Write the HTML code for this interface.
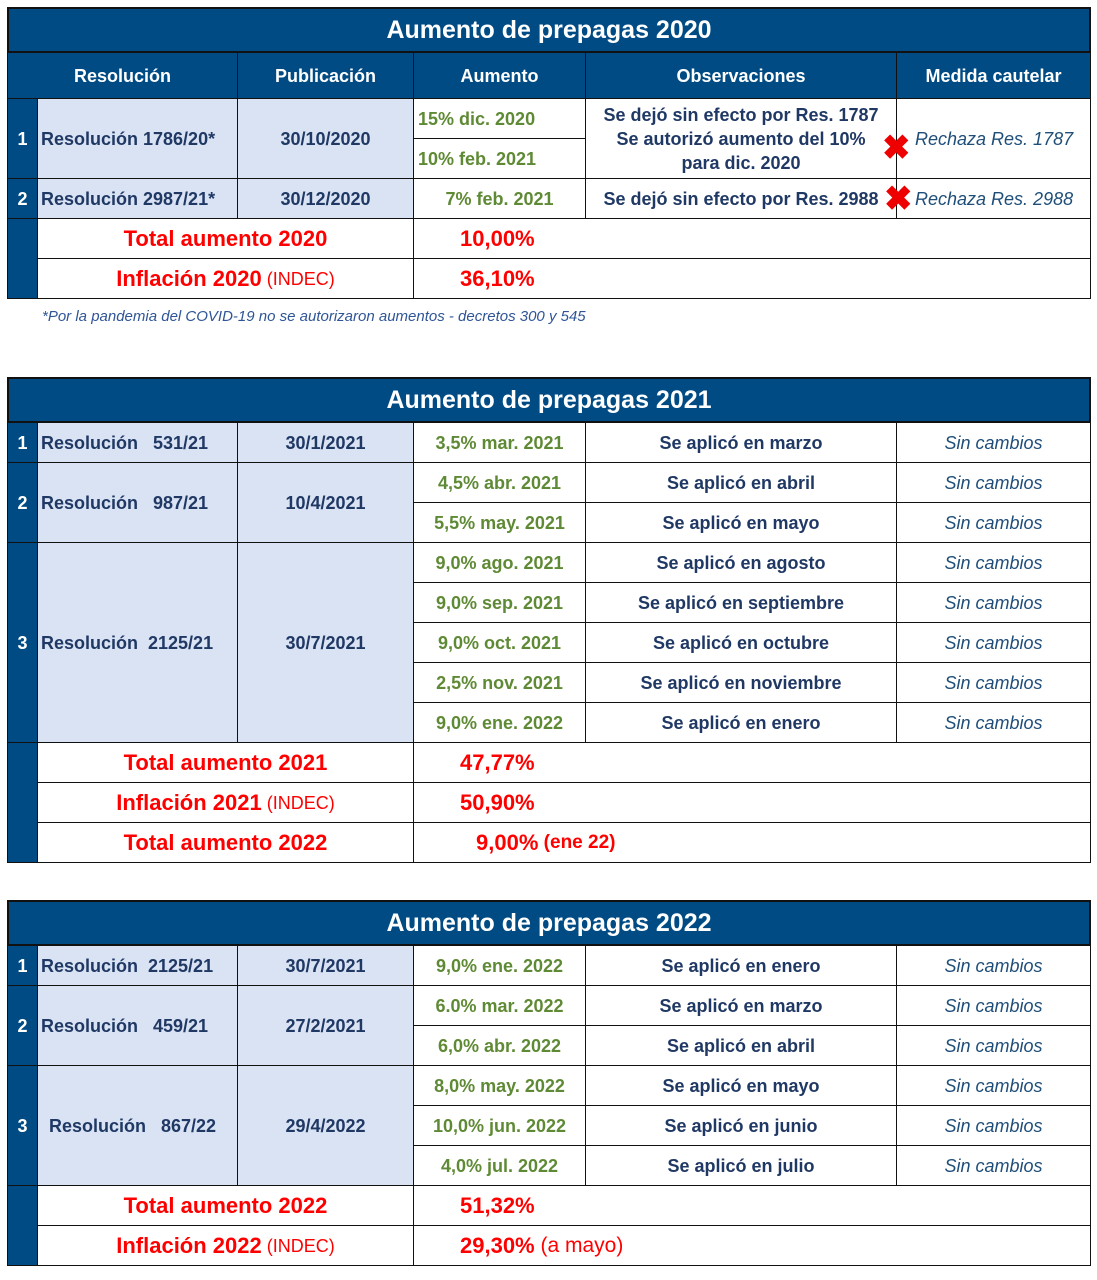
<!DOCTYPE html>
<html><head><meta charset="utf-8"><style>
body{margin:0;width:1097px;height:1280px;background:#fff;position:relative;font-family:"Liberation Sans",sans-serif;overflow:hidden}
.c{position:absolute;box-sizing:border-box;border:1px solid #111;display:flex;align-items:center;justify-content:center;text-align:center;font-weight:bold;font-size:18px;color:#1f3864;line-height:24px}
.t{background:#004b84;color:#fff;font-size:25px;border:2px solid #111}
.h{background:#004b84;color:#fff;font-size:18px}
.n{background:#004b84;color:#fff;font-size:18px}
.l{background:#dae3f3}
.g{color:#5f8a35}
.r{color:#f00;font-size:22px}
.i{font-style:italic;font-weight:normal;color:#1f4e79}
.x{position:absolute;color:#e00;font-size:34px;font-weight:bold;line-height:34px}
.fn{position:absolute;left:42px;top:308px;font-size:15px;font-style:italic;color:#2f5597}
</style></head><body>
<div id="root"></div>
<div class="fn">*Por la pandemia del COVID-19 no se autorizaron aumentos - decretos 300 y 545</div>
<script>
const X=[7,37,237,413,585,896,1090];
let h='';
function c(x1,y1,x2,y2,t,cls,st){h+=`<div class="c ${cls||''}" style="left:${x1}px;top:${y1}px;width:${x2-x1+1}px;height:${y2-y1+1}px;${st||''}">${t}</div>`;}
function table(y0,title,rows,totals,hdr){
 c(X[0],y0,X[6],y0+45,title,'t');
 let y=y0+45;
 if(hdr){c(X[0],y,X[2],y+46,'Resolución','h');c(X[2],y,X[3],y+46,'Publicación','h');c(X[3],y,X[4],y+46,'Aumento','h');c(X[4],y,X[5],y+46,'Observaciones','h');c(X[5],y,X[6],y+46,'Medida cautelar','h');y+=46;}
 rows.forEach(g=>{
  const hh=g.sub.length*40;
  c(X[0],y,X[1],y+hh,g.n,'n');
  c(X[1],y,X[2],y+hh,g.res,'l',g.rs||'justify-content:flex-start;padding-left:3px');
  c(X[2],y,X[3],y+hh,g.pub,'l');
  g.sub.forEach((s,k)=>{const yy=y+k*40;
   c(X[3],yy,X[4],yy+40,s[0],'g',s[3]||'');
   if(s[1]!==null)c(X[4],yy,X[5],yy+(s[4]||40),s[1],'');
   if(s[2]!==null)c(X[5],yy,X[6],yy+(s[4]||40),s[2],'i',s[5]||'');
  });
  y+=hh;
 });
 const ty=y;
 totals.forEach((t,k)=>{const yy=y+k*40;
  c(X[1],yy,X[3],yy+40,t[0],'r');
  c(X[3],yy,X[6],yy+40,t[1],'r',t[2]||'justify-content:flex-start;padding-left:'+(t[3]||46)+'px');
 });
 c(X[0],ty,X[1],ty+totals.length*40,'','n');
}
const sc='Sin cambios';
const ind='<span style="font-weight:normal;font-size:18px">&nbsp;(INDEC)</span>';
const rj='justify-content:flex-start;padding-left:18px';
table(7,'Aumento de prepagas 2020',[
 {n:'1',res:'Resolución 1786/20*',pub:'30/10/2020',sub:[['15% dic. 2020','Se dejó sin efecto por Res. 1787<br>Se autorizó aumento del 10%<br>para dic. 2020','Rechaza Res. 1787','justify-content:flex-start;padding-left:4px',80,rj],['10% feb. 2021',null,null,'justify-content:flex-start;padding-left:4px']]},
 {n:'2',res:'Resolución 2987/21*',pub:'30/12/2020',sub:[['7% feb. 2021','Se dejó sin efecto por Res. 2988','Rechaza Res. 2988','',40,rj]]}
],[['Total aumento 2020','10,00%'],['Inflación 2020'+ind,'36,10%']],true);
table(377,'Aumento de prepagas 2021',[
 {n:'1',res:'Resolución &nbsp; 531/21',pub:'30/1/2021',sub:[['3,5% mar. 2021','Se aplicó en marzo',sc]]},
 {n:'2',res:'Resolución &nbsp; 987/21',pub:'10/4/2021',sub:[['4,5% abr. 2021','Se aplicó en abril',sc],['5,5% may. 2021','Se aplicó en mayo',sc]]},
 {n:'3',res:'Resolución &nbsp;2125/21',pub:'30/7/2021',sub:[['9,0% ago. 2021','Se aplicó en agosto',sc],['9,0% sep. 2021','Se aplicó en septiembre',sc],['9,0% oct. 2021','Se aplicó en octubre',sc],['2,5% nov. 2021','Se aplicó en noviembre',sc],['9,0% ene. 2022','Se aplicó en enero',sc]]}
],[['Total aumento 2021','47,77%'],['Inflación 2021'+ind,'50,90%'],['Total aumento 2022','9,00% <span style="font-size:19px">&nbsp;(ene 22)</span>','justify-content:flex-start;padding-left:62px']]);
table(900,'Aumento de prepagas 2022',[
 {n:'1',res:'Resolución &nbsp;2125/21',pub:'30/7/2021',sub:[['9,0% ene. 2022','Se aplicó en enero',sc]]},
 {n:'2',res:'Resolución &nbsp; 459/21',pub:'27/2/2021',sub:[['6.0% mar. 2022','Se aplicó en marzo',sc],['6,0% abr. 2022','Se aplicó en abril',sc]]},
 {n:'3',res:'Resolución &nbsp; 867/22',pub:'29/4/2022',rs:'justify-content:flex-start;padding-left:11px',sub:[['8,0% may. 2022','Se aplicó en mayo',sc],['10,0% jun. 2022','Se aplicó en junio',sc],['4,0% jul. 2022','Se aplicó en julio',sc]]}
],[['Total aumento 2022','51,32%'],['Inflación 2022'+ind,'29,30% <span style="font-weight:normal;font-size:21px">&nbsp;(a mayo)</span>']]);
h+='<div class="x" style="left:882px;top:131px">✖</div><div class="x" style="left:884px;top:182px">✖</div>';
document.getElementById('root').innerHTML=h;
</script>
</body></html>
